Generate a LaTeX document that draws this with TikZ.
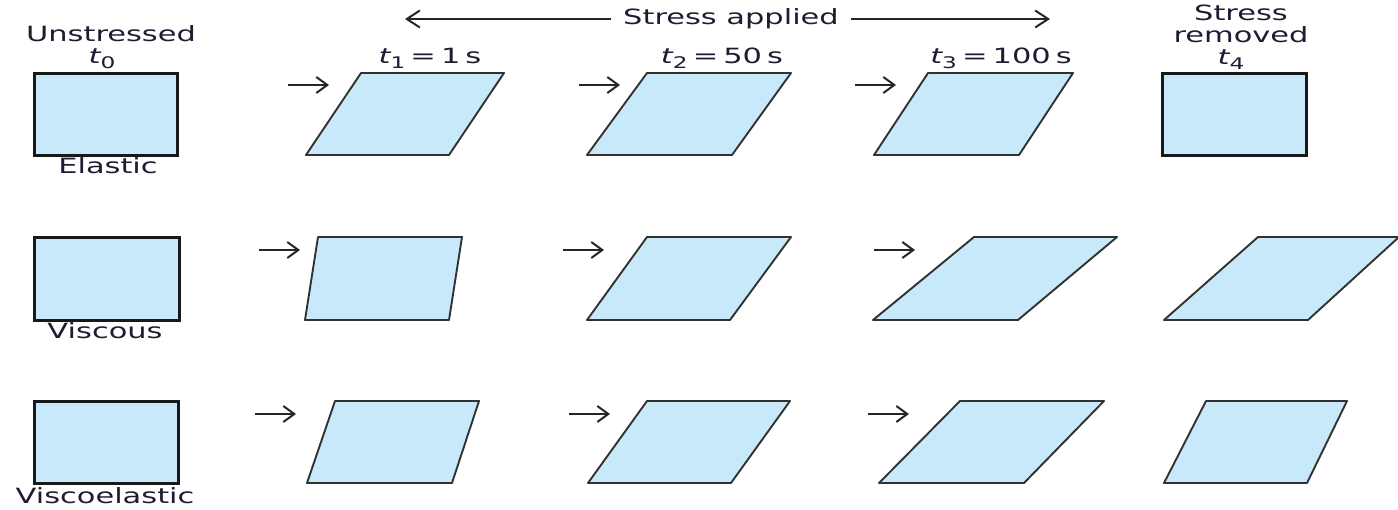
\documentclass[tikz,border=0pt]{standalone}
\usepackage{fontspec}
\setmainfont{DejaVu Sans}
\usetikzlibrary{arrows.meta}
\definecolor{ink}{RGB}{28,28,50}
\definecolor{boxfill}{RGB}{200,233,250}
\definecolor{edgec}{RGB}{50,50,50}
\newcommand{\wide}[1]{\scalebox{1.45}[1]{#1}}
\newcommand{\tlab}[1]{{\itshape t}\raisebox{-0.45ex}{\fontsize{16}{16}\selectfont #1}}
\begin{document}
\begin{tikzpicture}[x=1pt,y=-1pt,
  lbl/.style={inner sep=0pt, text=ink, font=\fontsize{21}{21}\selectfont},
  sq/.style={draw=black!90, line width=3pt, fill=boxfill},
  pg/.style={draw=edgec, line width=1.9pt, fill=boxfill, line join=round},
  push/.style={draw=black!85, line width=2pt, -{Straight Barb[length=11pt,width=16pt,line width=2pt]}},
  span/.style={draw=black!85, line width=2pt, -{Straight Barb[length=13pt,width=17pt,line width=2pt]}}]
\useasboundingbox (0,0) rectangle (1398,509);

% header
\node[lbl, inner xsep=12pt] (sa) at (731,19) {\wide{Stress applied}};
\coordinate (sal) at (405,19);
\coordinate (sar) at (1050,19);
\draw[span] (sa) -- (sal);
\draw[span] (sa) -- (sar);

\node[lbl] (uns) at (111,34) {\wide{Unstressed}};
\node[lbl] (t0) at (102,59) {\wide{\tlab{0}}};
\node[lbl] (t1) at (430,58) {\wide{\tlab{1}\,=\,1\,s}};
\node[lbl] (t2) at (722,58) {\wide{\tlab{2}\,=\,50\,s}};
\node[lbl] (t3) at (1001,58) {\wide{\tlab{3}\,=\,100\,s}};
\node[lbl] (sr1) at (1241,13) {\wide{Stress}};
\node[lbl] (sr2) at (1241,35) {\wide{removed}};
\node[lbl] (t4) at (1231,60) {\wide{\tlab{4}}};

% row labels
\node[lbl] (el) at (108,166) {\wide{Elastic}};
\node[lbl] (vi) at (105,331) {\wide{Viscous}};
\node[lbl] (ve) at (105,496) {\wide{Viscoelastic}};

% Row 1: elastic
\draw[sq] (34,73) rectangle (177,155);
\draw[pg] (306,155) -- (361,73) -- (504,73) -- (449,155) -- cycle;
\draw[pg] (587,155) -- (647,73) -- (791,73) -- (732,155) -- cycle;
\draw[pg] (874,155) -- (928,73) -- (1073,73) -- (1019,155) -- cycle;
\draw[sq] (1162,73) rectangle (1306,155);
\coordinate (a11s) at (288,85); \coordinate (a11e) at (329,85);
\coordinate (a12s) at (579,85); \coordinate (a12e) at (620,85);
\coordinate (a13s) at (855,85); \coordinate (a13e) at (896,85);
\draw[push] (a11s) -- (a11e);
\draw[push] (a12s) -- (a12e);
\draw[push] (a13s) -- (a13e);

% Row 2: viscous
\draw[sq] (34,237) rectangle (179,320);
\draw[pg] (305,320) -- (318,237) -- (462,237) -- (449,320) -- cycle;
\draw[pg] (587,320) -- (647,237) -- (791,237) -- (730,320) -- cycle;
\draw[pg] (873,320) -- (974,237) -- (1117,237) -- (1018,320) -- cycle;
\draw[pg] (1164,320) -- (1258,237) -- (1399,237) -- (1308,320) -- cycle;
\coordinate (a21s) at (259,250); \coordinate (a21e) at (300,250);
\coordinate (a22s) at (563,250); \coordinate (a22e) at (604,250);
\coordinate (a23s) at (874,250); \coordinate (a23e) at (915,250);
\draw[push] (a21s) -- (a21e);
\draw[push] (a22s) -- (a22e);
\draw[push] (a23s) -- (a23e);

% Row 3: viscoelastic
\draw[sq] (34,401) rectangle (178,483);
\draw[pg] (307,483) -- (335,401) -- (479,401) -- (452,483) -- cycle;
\draw[pg] (588,483) -- (647,401) -- (790,401) -- (731,483) -- cycle;
\draw[pg] (879,483) -- (960,401) -- (1104,401) -- (1024,483) -- cycle;
\draw[pg] (1164,483) -- (1206,401) -- (1347,401) -- (1307,483) -- cycle;
\coordinate (a31s) at (255,414); \coordinate (a31e) at (296,414);
\coordinate (a32s) at (569,414); \coordinate (a32e) at (610,414);
\coordinate (a33s) at (868,414); \coordinate (a33e) at (909,414);
\draw[push] (a31s) -- (a31e);
\draw[push] (a32s) -- (a32e);
\draw[push] (a33s) -- (a33e);
\end{tikzpicture}
\end{document}
